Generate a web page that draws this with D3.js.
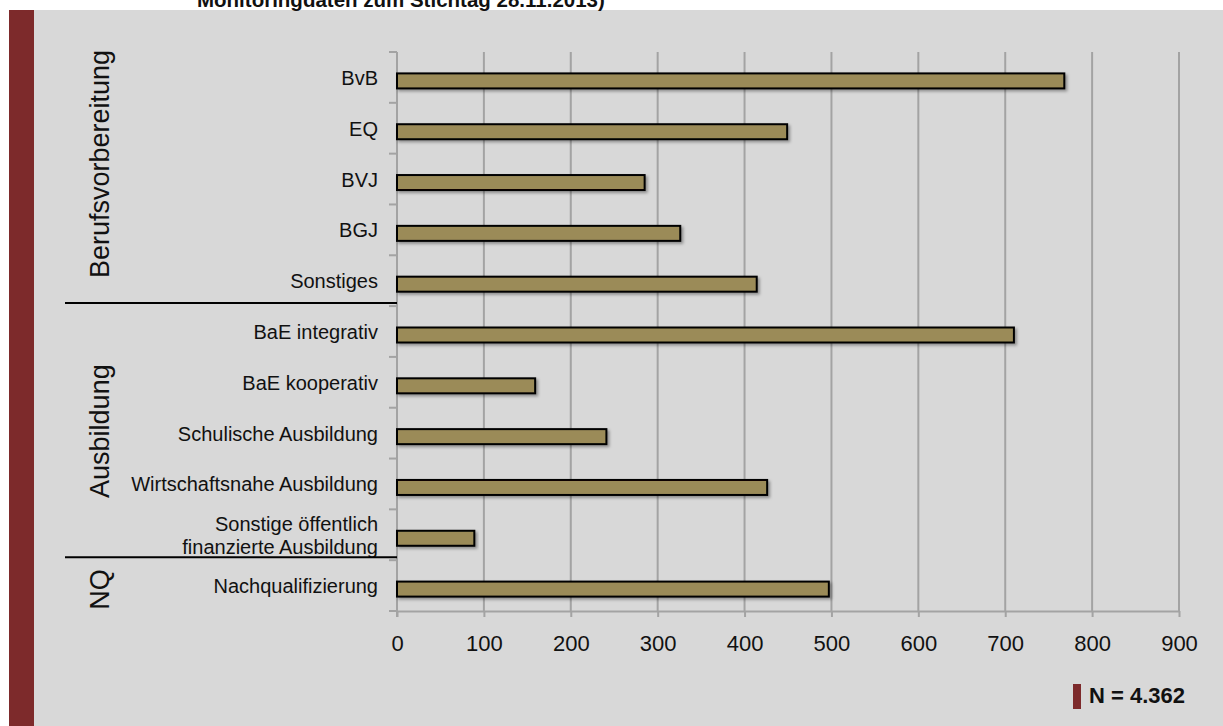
<!DOCTYPE html>
<html>
<head>
<meta charset="utf-8">
<script src="https://cdn.jsdelivr.net/npm/d3@7"></script>
<style>
  body { margin: 0; background: #fff; }
  text { font-family: "Liberation Sans", Arial, sans-serif; }
</style>
</head>
<body>
<script>
// chart data
const categories = [
  "BvB",
  "EQ",
  "BVJ",
  "BGJ",
  "Sonstiges",
  "BaE integrativ",
  "BaE kooperativ",
  "Schulische Ausbildung",
  "Wirtschaftsnahe Ausbildung",
  "Sonstige öffentlich|finanzierte Ausbildung",
  "Nachqualifizierung"
];
const values = [768, 449, 285, 326, 414, 710, 159, 241, 426, 89, 497];
const groupNames = ["Berufsvorbereitung", "Ausbildung", "NQ"];
const groupSizes = [5, 5, 1];
const xTicks = [0, 100, 200, 300, 400, 500, 600, 700, 800, 900];
const titleText = "Monitoringdaten zum Stichtag 28.11.2013)";
const noteText = "N = 4.362";

// set svg width and height
const width = 1223,
  height = 726;
const plot = { top: 52, bottom: 611, left: 397, right: 1179 };
const groupShift = [-15, -2, 4]; // label nudges to match the original layout

const svg = d3
  .select("body")
  .append("svg")
  .attr("width", width)
  .attr("height", height);

// drop shadow for the bars
const filter = svg
  .append("defs")
  .append("filter")
  .attr("id", "shadow")
  .attr("x", "-5%")
  .attr("y", "-50%")
  .attr("width", "110%")
  .attr("height", "200%");
filter
  .append("feDropShadow")
  .attr("dx", 2)
  .attr("dy", 2)
  .attr("stdDeviation", 1.5)
  .attr("flood-color", "#000")
  .attr("flood-opacity", 0.35);

// background panel + red stripe
svg
  .append("rect")
  .attr("x", 34)
  .attr("y", 10)
  .attr("width", width - 34)
  .attr("height", height - 10)
  .attr("fill", "#d8d8d8");
svg
  .append("rect")
  .attr("x", 9)
  .attr("y", 10)
  .attr("width", 25)
  .attr("height", height - 10)
  .attr("fill", "#7d2a2b");

// cut-off title at the top
svg
  .append("text")
  .attr("x", 197)
  .attr("y", 7)
  .attr("font-size", 20.5)
  .attr("font-weight", "bold")
  .attr("fill", "#111")
  .text(titleText);

// scales
const xScale = d3.scaleLinear().domain([0, 900]).range([plot.left, plot.right]);
const yScale = d3
  .scaleBand()
  .domain(categories)
  .range([plot.top, plot.bottom])
  .padding(0);
const bw = yScale.bandwidth();

// vertical grid lines
svg
  .append("g")
  .selectAll("line")
  .data(xTicks.slice(1))
  .enter()
  .append("line")
  .attr("x1", (d) => xScale(d))
  .attr("x2", (d) => xScale(d))
  .attr("y1", plot.top)
  .attr("y2", plot.bottom)
  .attr("stroke", "#a3a3a3")
  .attr("stroke-width", 2);

// x axis
const xAxis = d3.axisBottom(xScale).tickValues(xTicks).tickSize(6).tickSizeOuter(0);
const gx = svg
  .append("g")
  .attr("transform", `translate(0,${plot.bottom})`)
  .call(xAxis);
gx.select(".domain").attr("stroke", "#a3a3a3").attr("stroke-width", 2);
gx.selectAll(".tick line").attr("stroke", "#a3a3a3").attr("stroke-width", 2);
gx.selectAll(".tick text")
  .attr("y", 40)
  .attr("dy", 0)
  .attr("font-size", 22)
  .attr("font-family", "Liberation Sans, Arial, sans-serif")
  .attr("fill", "#111");

// y axis line with ticks on band boundaries
const yBounds = categories.map((c) => yScale(c)).concat([plot.bottom]);
const gy = svg.append("g");
gy.append("line")
  .attr("x1", plot.left)
  .attr("x2", plot.left)
  .attr("y1", plot.top)
  .attr("y2", plot.bottom + 6)
  .attr("stroke", "#a3a3a3")
  .attr("stroke-width", 2);
gy.selectAll("line.tk")
  .data(yBounds)
  .enter()
  .append("line")
  .attr("class", "tk")
  .attr("x1", plot.left - 8)
  .attr("x2", plot.left)
  .attr("y1", (d) => d)
  .attr("y2", (d) => d)
  .attr("stroke", "#a3a3a3")
  .attr("stroke-width", 2);

// bars
svg
  .append("g")
  .selectAll("rect")
  .data(values)
  .enter()
  .append("rect")
  .attr("x", xScale(0))
  .attr("y", (d, i) => yScale(categories[i]) + bw / 2 - 4)
  .attr("width", (d) => xScale(d) - xScale(0))
  .attr("height", 15)
  .attr("fill", "#9b8b59")
  .attr("stroke", "#000")
  .attr("stroke-width", 2)
  .attr("filter", "url(#shadow)");

// category labels
const labels = svg
  .append("g")
  .selectAll("text")
  .data(categories)
  .enter()
  .append("text")
  .attr("text-anchor", "end")
  .attr("font-size", 20)
  .attr("fill", "#111");
labels.each(function (d) {
  const parts = d.split("|");
  const cy = yScale(d) + bw / 2;
  const t = d3.select(this);
  if (parts.length === 1) {
    t.append("tspan").attr("x", 378).attr("y", cy + 7.5).text(d);
  } else {
    t.append("tspan").attr("x", 378).attr("y", cy - 3.5).text(parts[0]);
    t.append("tspan").attr("x", 378).attr("y", cy + 19.5).text(parts[1]);
  }
});

// group labels + separators
let start = 0;
groupNames.forEach((g, i) => {
  const y0 = yScale(categories[start]);
  const end = start + groupSizes[i];
  const y1 = end < categories.length ? yScale(categories[end]) : plot.bottom;
  svg
    .append("text")
    .attr("transform", `translate(109,${(y0 + y1) / 2 + groupShift[i]}) rotate(-90)`)
    .attr("text-anchor", "middle")
    .attr("font-size", 27)
    .attr("fill", "#111")
    .text(g);
  if (end < categories.length) {
    svg
      .append("line")
      .attr("x1", 65)
      .attr("x2", plot.left)
      .attr("y1", y1 - 3)
      .attr("y2", y1 - 3)
      .attr("stroke", "#000")
      .attr("stroke-width", 2);
  }
  start = end;
});

// N note
svg
  .append("rect")
  .attr("x", 1073)
  .attr("y", 684)
  .attr("width", 8)
  .attr("height", 25)
  .attr("fill", "#7d2a2b");
svg
  .append("text")
  .attr("x", 1089)
  .attr("y", 703)
  .attr("font-size", 22)
  .attr("font-weight", "bold")
  .attr("fill", "#111")
  .text(noteText);
</script>
</body>
</html>
